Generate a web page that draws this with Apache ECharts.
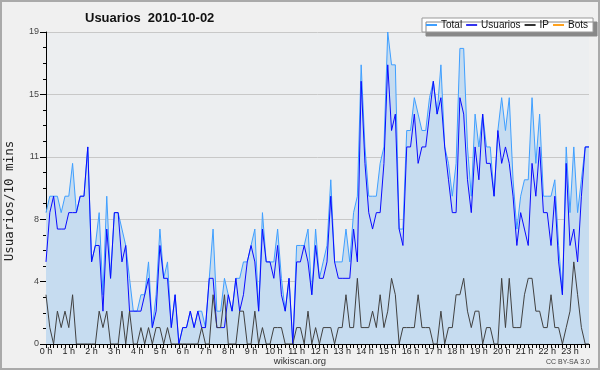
<!DOCTYPE html>
<html><head><meta charset="utf-8">
<script src="https://cdn.jsdelivr.net/npm/echarts@6/dist/echarts.min.js"></script>
<style>html,body{margin:0;padding:0;background:#f0f0f0}#c{width:600px;height:370px}</style>
</head><body><div id="c"></div>
<script>
const hourLabels = ['0 h','1 h','2 h','3 h','4 h','5 h','6 h','7 h','8 h','9 h','10 h','11 h','12 h','13 h','14 h','15 h','16 h','17 h','18 h','19 h','20 h','21 h','22 h','23 h'];
const minuteSlots = ['00','10','20','30','40','50'];
const total = [
 8,9,9,9,8,9,9,11,8,9,9,12,
 5,6,8,3,9,4,8,8,7,6,4,2,
 2,3,3,5,1,3,7,4,5,1,3,0,
 1,1,2,1,2,2,1,4,7,2,2,4,
 3,2,4,4,5,5,6,7,2,8,5,5,
 5,7,4,2,4,0,6,6,6,7,3,7,
 4,5,6,10,5,5,5,7,5,8,9,17,
 12,9,9,9,11,12,19,17,17,7,7,13,
 13,15,14,13,13,15,16,14,17,12,11,9,
 11,18,18,12,9,14,12,14,12,12,9,13,
 15,13,15,10,7,9,10,10,15,11,14,9,
 9,9,10,6,3,12,8,12,8,10,12,12];
const usuarios = [
 5,8,9,7,7,7,8,8,8,9,9,12,
 5,6,6,2,7,4,8,8,5,6,2,2,
 2,2,3,4,1,2,6,4,4,1,3,0,
 1,1,2,1,2,1,1,4,4,1,1,1,
 3,2,4,2,3,5,6,5,2,7,5,5,
 4,6,3,2,4,0,5,5,6,5,3,6,
 4,4,5,9,5,4,4,4,4,7,5,16,
 11,8,7,8,8,11,17,13,14,7,6,12,
 12,14,11,12,12,14,16,14,15,12,10,8,
 8,15,14,10,8,12,10,14,11,11,9,13,
 11,12,11,9,6,8,7,6,11,9,12,8,
 8,6,9,5,3,11,6,7,5,9,12,12];
const ip = [
 3,1,0,2,1,2,1,3,0,0,0,0,
 0,0,2,1,2,0,0,0,2,0,2,0,
 0,1,0,1,0,1,1,0,1,0,0,0,
 0,0,0,0,0,1,0,0,3,1,1,3,
 0,0,0,2,2,0,0,2,0,1,0,0,
 1,1,1,0,0,0,1,1,0,2,0,1,
 0,1,1,1,0,1,1,3,1,1,4,1,
 1,1,2,1,3,1,2,4,3,0,1,1,
 1,1,3,1,1,1,0,0,2,0,1,1,
 3,3,4,2,1,2,2,0,1,1,0,0,
 4,1,4,1,1,1,3,4,4,2,2,1,
 1,3,1,1,0,1,2,5,3,1,0,0];
const bots = [];
const yTickValues = [0, 3.8, 7.6, 11.4, 15.2, 19];
const yTickLabels = ['0','4','8','11','15','19'];

const categories = [];
hourLabels.forEach(function(h){ minuteSlots.forEach(function(m){ categories.push(h + ':' + m); }); });

const chart = echarts.init(document.getElementById('c'), null, {renderer:'canvas'});
const sans = '"Liberation Sans", Arial, sans-serif';
chart.setOption({
  animation: false,
  backgroundColor: '#f0f0f0',
  title: {
    text: 'Usuarios  2010-10-02',
    left: 85, top: 12, padding: 0,
    textStyle: {fontFamily: sans, fontWeight: 'bold', fontSize: 13, color: '#111'}
  },
  legend: {
    left: 422, top: 18,
    padding: [2, 5, 2, 4],
    backgroundColor: '#fff',
    borderColor: '#999', borderWidth: 1,
    shadowColor: '#888', shadowOffsetX: 4, shadowOffsetY: 4, shadowBlur: 0,
    itemWidth: 11, itemHeight: 2, itemGap: 4,
    icon: 'rect',
    textStyle: {fontFamily: sans, fontSize: 10, color: '#111', padding: [0, 0, 0, -1]},
    data: ['Total', 'Usuarios', 'IP', 'Bots']
  },
  grid: {
    left: 46, right: 11, top: 32, bottom: 26,
    show: true, backgroundColor: '#eceef0', borderWidth: 0
  },
  xAxis: {
    type: 'category', data: categories, boundaryGap: false,
    axisLine: {lineStyle: {color: '#000', width: 1}},
    axisTick: {interval: 0, length: 4, lineStyle: {color: '#000'}},
    axisLabel: {
      interval: 5, margin: 3, fontFamily: sans, fontSize: 9, color: '#222',
      formatter: function(v, idx){ return hourLabels[Math.floor(idx / 6)]; }
    },
    splitLine: {show: false}
  },
  yAxis: {
    type: 'value', min: 0, max: 19, interval: 3.8,
    axisLine: {show: true, lineStyle: {color: '#000', width: 1}},
    axisTick: {show: true, length: 6, lineStyle: {color: '#000'}},
    minorTick: {show: true, splitNumber: 4, length: 3, lineStyle: {color: '#000'}},
    axisLabel: {
      margin: 7, fontFamily: sans, fontSize: 9, color: '#444',
      formatter: function(v){
        for (let k = 0; k < yTickValues.length; k++) { if (Math.abs(v - yTickValues[k]) < 1e-6) return yTickLabels[k]; }
        return '';
      }
    },
    splitLine: {show: true, lineStyle: {color: '#c8c8c8', width: 1}}
  },
  graphic: [
    {type: 'text', x: 10, y: 201, rotation: Math.PI / 2,
     style: {text: 'Usuarios/10 mins', font: '12.5px "DejaVu Sans Mono", monospace', fill: '#222', align: 'center', verticalAlign: 'middle'}},
    {type: 'text', x: 300, y: 361,
     style: {text: 'wikiscan.org', font: '9.5px ' + sans, fill: '#333', align: 'center', verticalAlign: 'middle'}},
    {type: 'text', x: 590, y: 362,
     style: {text: 'CC BY-SA 3.0', font: '7px ' + sans, fill: '#444', align: 'right', verticalAlign: 'middle'}},
    {type: 'rect', z: 100, shape: {x: 1, y: 1, width: 598, height: 368},
     style: {fill: 'none', stroke: '#aaa', lineWidth: 2}}
  ],
  series: [
    {name: 'Total', type: 'line', data: total, symbol: 'none', z: 2,
     lineStyle: {color: '#3f9fff', width: 1}, itemStyle: {color: '#3f9fff'},
     areaStyle: {color: '#c6dcf0', opacity: 1}},
    {name: 'Usuarios', type: 'line', data: usuarios, symbol: 'none', z: 3,
     lineStyle: {color: '#0a0aff', width: 1}, itemStyle: {color: '#3333ee'}},
    {name: 'IP', type: 'line', data: ip, symbol: 'none', z: 4,
     lineStyle: {color: '#404040', width: 1}, itemStyle: {color: '#333'}},
    {name: 'Bots', type: 'line', data: bots, symbol: 'none', z: 5,
     lineStyle: {color: '#ffa21f', width: 1}, itemStyle: {color: '#ffa21f'}}
  ]
});
</script></body></html>
